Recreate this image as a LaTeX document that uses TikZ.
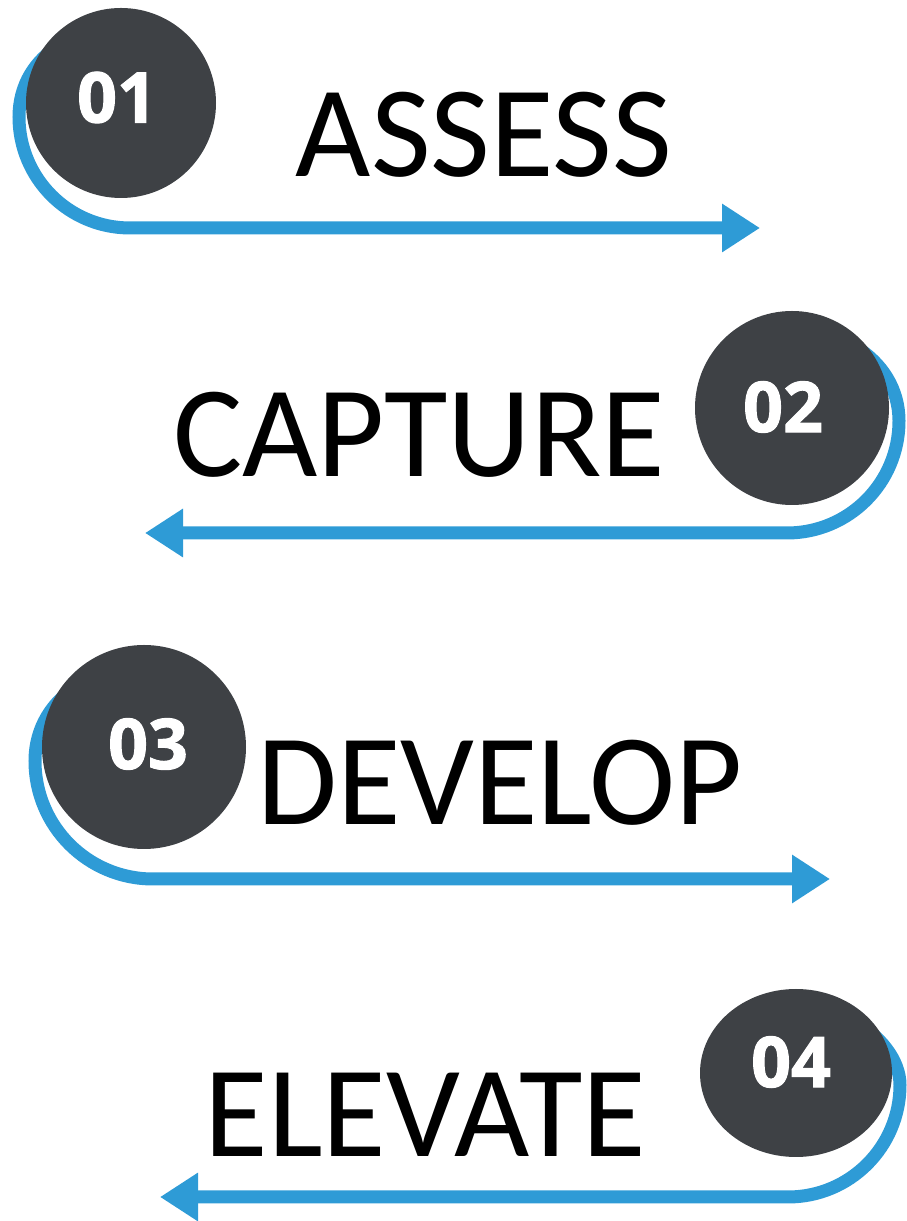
\documentclass[tikz,border=0pt]{standalone}
\usepackage{fontspec}
\setmainfont{Carlito}
\newfontfamily\digitfont{Open Sans}[BoldFeatures={FakeBold=1.5}]
\usetikzlibrary{arrows.meta,shapes.geometric}
\definecolor{discgray}{HTML}{3E4145}
\definecolor{flowblue}{HTML}{2E9BD6}
\begin{document}
\begin{tikzpicture}[x=1pt,y=1pt,
  stepdisc/.style={circle, fill=discgray, inner sep=0pt, minimum size=#1},
  stepnum/.style={font=\digitfont\bfseries\fontsize{70}{70}\selectfont, text=white, inner sep=0pt},
  steptext/.style={font=\fontsize{130}{130}\selectfont, text=black, inner sep=0pt, anchor=base},
  flow/.style={draw=flowblue, line width=13pt, -{Triangle[length=38pt,width=46pt]}}]
\useasboundingbox (0,0) rectangle (907,1221);

% start points (hidden under the discs) and arrow tips
\coordinate (s1) at (60,1176);
\coordinate (t1) at (760,993);
\coordinate (s2) at (856,874);
\coordinate (t2) at (145,688);
\coordinate (s3) at (79,536);
\coordinate (t3) at (830,342);
\coordinate (s4) at (852,201);
\coordinate (t4) at (160,24);

% curved arrows, drawn first so the discs cover their starts
\draw[flow] (s1) .. controls (35,1161) and (19,1136) .. (19,1104)
  arc[start angle=180, end angle=270, radius=111] -- (t1);
\draw[flow] (s2) .. controls (882,858) and (899,832) .. (899,800)
  arc[start angle=0, end angle=-90, radius=112] -- (t2);
\draw[flow] (s3) .. controls (52,520) and (35,493) .. (35,460)
  arc[start angle=180, end angle=270, radius=118] -- (t3);
\draw[flow] (s4) .. controls (880,186) and (900,161) .. (900,136)
  arc[start angle=0, end angle=-90, radius=112] -- (t4);

% numbered discs
\node[stepdisc=190] (c1) at (121,1118) {};
\node[stepdisc=194] (c2) at (792,813) {};
\node[stepdisc=204] (c3) at (144,474) {};
\node[ellipse, fill=discgray, inner sep=0pt, minimum width=192, minimum height=168] (c4) at (796,148) {};

\node[stepnum] (n1) at (117,1123.5) {01};
\node[stepnum] (n2) at (783,814) {02};
\node[stepnum] (n3) at (148,477) {03};
\node[stepnum] (n4) at (791,159) {04};

% step names
\node[steptext] (l1) at (484,1044) {ASSESS};
\node[steptext] (l2) at (419,744) {CAPTURE};
\node[steptext] (l3) at (500,396) {DEVELOP};
\node[steptext] (l4) at (425.5,64) {ELEVATE};
\end{tikzpicture}
\end{document}
